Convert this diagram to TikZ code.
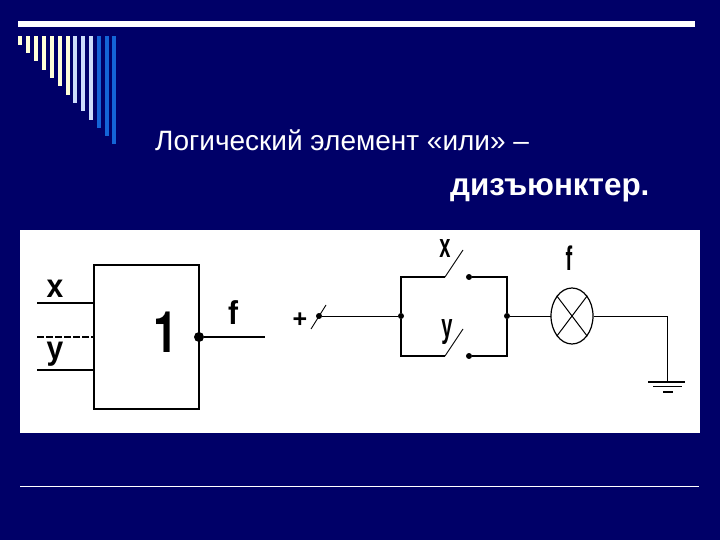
\documentclass[tikz,border=0pt]{standalone}
\usepackage{fontspec}
\setmainfont{Liberation Sans}
\newfontfamily\herosfont{TeX Gyre Heros}
\usetikzlibrary{shapes.geometric}
\definecolor{navy}{RGB}{0,0,104}
\definecolor{bara}{RGB}{255,255,215}
\definecolor{barb}{RGB}{205,220,250}
\definecolor{barc}{RGB}{20,100,215}
\tikzset{
  head/.style={text=white,inner sep=0pt,anchor=base west},
  lbl/.style={inner sep=0pt,font=\bfseries\fontsize{30}{30}\selectfont,yscale=1.1,transform shape},
  clbl/.style={inner sep=0pt,font=\bfseries\fontsize{20}{20}\selectfont,yscale=1.7,transform shape},
  heavy/.style={line width=1.7pt,black},
  wire/.style={line width=1pt,black},
  thin blade/.style={line width=.9pt,black},
  jdot/.style={circle,fill=black,inner sep=0pt,minimum size=6pt},
  bigdot/.style={circle,fill=black,inner sep=0pt,minimum size=10pt},
  lamp/.style={ellipse,draw=black,line width=1.2pt,minimum width=42pt,minimum height=56pt,inner sep=0pt},
  gate/.style={rectangle,draw=black,line width=1.7pt,minimum width=105pt,minimum height=144pt,inner sep=0pt}
}
\begin{document}
\begin{tikzpicture}[x=1pt,y=-1pt]
\useasboundingbox (0,0) rectangle (720,540);
\fill[navy] (0,0) rectangle (720,540);
\fill[white] (18,21) rectangle (695,27);
\foreach \xa/\yb/\c in {18/45/bara,26/53/bara,34/61/bara,42/70/bara,50/78/bara,58/86/bara,65.5/95/bara,73/103/barb,81/111/barb,89/120/barb,97/128/barc,105/136/barc,112/144/barc}
  \fill[\c] (\xa,36) rectangle (\xa+4.3,\yb);
\node[head,font=\fontsize{28}{28}\selectfont] (title) at (155,151) {Логический элемент «или» –};
\node[head,font=\bfseries\fontsize{31.4}{31.4}\selectfont] (word) at (450,196) {дизъюнктер.};
\fill[white] (20,230) rectangle (700,433);
\draw[white,line width=.7pt] (20,486.5) -- (699,486.5);
% gate
\node[gate] (g) at (146.5,337) {};
\coordinate (xa) at (37,303); \coordinate (xb) at (94,303);
\coordinate (da) at (37,337); \coordinate (db) at (93,337);
\coordinate (ya) at (37,370); \coordinate (yb) at (94,370);
\coordinate (fe) at (265,337);
\node[bigdot] (gd) at (199,337) {};
\draw[heavy] (xa) -- (xb);
\draw[heavy,dash pattern=on 7pt off 2pt] (da) -- (db);
\draw[heavy] (ya) -- (yb);
\draw[heavy] (gd) -- (fe);
\node[lbl] (lx) at (55,288.5) {x};
\node[lbl] (ly) at (55,354) {y};
\node[lbl,font=\herosfont\bfseries\fontsize{44}{44}\selectfont,yscale=1.3/1.1] (one) at (166,332) {1};
\node[lbl] (lf) at (233,312.5) {f};
% circuit
\node[inner sep=0pt,font=\bfseries\fontsize{25}{25}\selectfont] (plus) at (300,320) {+};
\coordinate (sa) at (311,329); \coordinate (sb) at (326,305);
\draw[thin blade] (sa) -- (sb);
\node[jdot] (s0) at (319,316) {};
\node[jdot] (jl) at (401,316) {};
\node[jdot] (jr) at (507,316) {};
\draw[wire] (s0) -- (jl) (jr) -- (550.5,316);
\node[lamp] (lamp) at (572,316) {};
\draw[wire] (lamp.north west) -- (lamp.south east) (lamp.north east) -- (lamp.south west);
\coordinate (gt) at (667,316); \coordinate (gb) at (667,381);
\draw[wire] (lamp.east) -- (gt) -- (gb);
\coordinate (ua) at (445,277); \coordinate (ub) at (463,250);
\coordinate (la) at (445,356); \coordinate (lb) at (463,329);
\node[jdot] (uc) at (469,277) {};
\node[jdot] (lc) at (469,356) {};
\draw[heavy] (ua) -| (jl) |- (la);
\draw[heavy] (uc) -| (jr) |- (lc);
\draw[thin blade] (ua) -- (ub) (la) -- (lb);
\node[clbl] (cx) at (445,249) {x};
\node[clbl] (cy) at (447,332) {y};
\node[clbl] (cf) at (569,258) {f};
\draw[heavy] (648,382) -- (685,382) (653,386.5) -- (682,386.5) (663,392) -- (673,392);
\end{tikzpicture}
\end{document}
